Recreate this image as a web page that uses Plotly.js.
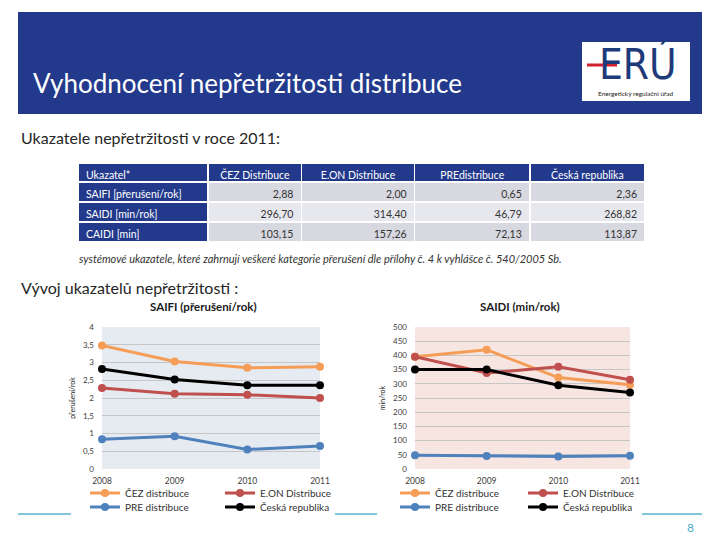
<!DOCTYPE html>
<html><head><meta charset="utf-8">
<script src="https://cdn.plot.ly/plotly-3.0.1.min.js"></script>
<style>html,body{margin:0;padding:0;background:#fff}#c{width:720px;height:540px}</style>
</head><body><div id="c"></div>
<script>
// ---- data ----
const years = [2008, 2009, 2010, 2011];
const seriesNames = ['ČEZ distribuce', 'E.ON Distribuce', 'PRE distribuce', 'Česká republika'];
const saifiCEZ = [3.48, 3.03, 2.85, 2.88];
const saifiEON = [2.28, 2.12, 2.09, 2.00];
const saifiPRE = [0.84, 0.92, 0.55, 0.65];
const saifiCR  = [2.82, 2.52, 2.36, 2.36];
const saidiCEZ = [395, 420, 322, 297];
const saidiEON = [395, 338, 360, 314];
const saidiPRE = [48, 46, 44, 47];
const saidiCR  = [350, 350, 295, 269];

const tableHeader = ['Ukazatel*', 'ČEZ Distribuce', 'E.ON Distribuce', 'PREdistribuce', 'Česká republika'];
const tableIndicators = ['SAIFI [přerušení/rok]', 'SAIDI [min/rok]', 'CAIDI [min]'];
const tableCEZ = ['2,88', '296,70', '103,15'];
const tableEON = ['2,00', '314,40', '157,26'];
const tablePRE = ['0,65', '46,79', '72,13'];
const tableCR  = ['2,36', '268,82', '113,87'];

const colors = ['#f59d56', '#c0504d', '#4f81bd', '#000000'];
const FONT = 'Lato, "Noto Sans", sans-serif';
const W = 720, H = 540;
const px = v => v / W, py = v => 1 - v / H;

const saifi = [saifiCEZ, saifiEON, saifiPRE, saifiCR];
const saidi = [saidiCEZ, saidiEON, saidiPRE, saidiCR];

const traces = [];
saifi.forEach((ys, i) => traces.push({
  type: 'scatter', mode: 'lines+markers', x: years, y: ys, name: seriesNames[i],
  xaxis: 'x', yaxis: 'y', cliponaxis: false,
  line: {color: colors[i], width: 3}, marker: {color: colors[i], size: 8},
  legend: i === 0 ? 'legend' : 'legend' + (i + 1)
}));
saidi.forEach((ys, i) => traces.push({
  type: 'scatter', mode: 'lines+markers', x: years, y: ys, name: seriesNames[i],
  xaxis: 'x2', yaxis: 'y2', cliponaxis: false,
  line: {color: colors[i], width: 3}, marker: {color: colors[i], size: 8},
  legend: 'legend' + (i + 5)
}));

const navy = '#233a8c';
const gA = '#d7d8e0', gB = '#e7e8ee';
traces.push({
  type: 'table',
  domain: {x: [px(78), px(645)], y: [py(243), py(163)]},
  columnwidth: [130, 93, 113, 115, 115],
  header: {
    values: tableHeader,
    align: ['left', 'center', 'center', 'center', 'center'],
    fill: {color: navy}, line: {color: '#ffffff', width: 1.5},
    font: {family: FONT, size: 10.5, color: '#ffffff'}, height: 19
  },
  cells: {
    values: [tableIndicators, tableCEZ, tableEON, tablePRE, tableCR],
    align: ['left', 'right', 'right', 'right', 'right'],
    fill: {color: [[navy, navy, navy], [gA, gB, gA], [gA, gB, gA], [gA, gB, gA], [gA, gB, gA]]},
    line: {color: '#ffffff', width: 1.5},
    font: {family: FONT, size: 10.5, color: [['#fff','#fff','#fff'], '#333', '#333', '#333', '#333']}, height: 20
  }
});

const legendPos = [[85, 493], [220, 493], [85, 507], [220, 507], [395, 493], [523, 493], [395, 507], [523, 507]];
const layout = {
  width: W, height: H, margin: {l: 0, r: 0, t: 0, b: 0},
  paper_bgcolor: '#ffffff', plot_bgcolor: 'rgba(0,0,0,0)',
  separators: ', ',
  font: {family: FONT, size: 8, color: '#404040'},
  xaxis: {domain: [px(102), px(320)], range: [2008, 2011], tickvals: years, showgrid: false, zeroline: false,
    showline: false, ticks: '', ticklabelstandoff: 5, tickfont: {size: 8.5, color: '#404040'}, anchor: 'y'},
  yaxis: {domain: [py(469), py(327)], range: [0, 4], dtick: 0.5, gridcolor: '#c6c6c6', gridwidth: 1, zeroline: false,
    tickfont: {size: 8, color: '#404040'}, anchor: 'x', ticks: '', ticklabelstandoff: 7,
    title: {text: 'přerušení/rok', font: {size: 7, color: '#202020'}, standoff: 6}},
  xaxis2: {domain: [px(415), px(630)], range: [2008, 2011], tickvals: years, showgrid: false, zeroline: false,
    showline: false, ticks: '', ticklabelstandoff: 5, tickfont: {size: 8.5, color: '#404040'}, anchor: 'y2'},
  yaxis2: {domain: [py(469), py(327)], range: [0, 500], dtick: 50, gridcolor: '#c6c6c6', gridwidth: 1, zeroline: false,
    tickfont: {size: 8, color: '#404040'}, anchor: 'x2', ticks: '', ticklabelstandoff: 7,
    title: {text: 'min/rok', font: {size: 7, color: '#202020'}, standoff: 6}},
  showlegend: true,
  shapes: [
    {type: 'rect', xref: 'paper', yref: 'paper', x0: px(18), x1: px(702), y0: py(114), y1: py(12),
      fillcolor: navy, line: {width: 0}, layer: 'below'},
    {type: 'rect', xref: 'paper', yref: 'paper', x0: px(582), x1: px(690), y0: py(101), y1: py(42),
      fillcolor: '#ffffff', line: {width: 0}},
    {type: 'rect', xref: 'x domain', yref: 'y domain', x0: 0, x1: 1, y0: 0, y1: 1,
      fillcolor: '#e6ebf2', line: {width: 0}, layer: 'below'},
    {type: 'rect', xref: 'x2 domain', yref: 'y2 domain', x0: 0, x1: 1, y0: 0, y1: 1,
      fillcolor: '#f6e5e1', line: {width: 0}, layer: 'below'},
    {type: 'line', xref: 'paper', yref: 'paper', x0: px(18), x1: px(71), y0: py(514), y1: py(514), line: {color: '#5bb3cc', width: 1.5}},
    {type: 'line', xref: 'paper', yref: 'paper', x0: px(335), x1: px(377), y0: py(514), y1: py(514), line: {color: '#5bb3cc', width: 1.5}},
    {type: 'line', xref: 'paper', yref: 'paper', x0: px(642), x1: px(702), y0: py(514), y1: py(514), line: {color: '#5bb3cc', width: 1.5}}
  ],
  annotations: [
    {text: 'Vyhodnocení nepřetržitosti distribuce', xref: 'paper', yref: 'paper', x: px(31), y: py(83),
      xanchor: 'left', yanchor: 'middle', showarrow: false, font: {family: FONT, size: 26, color: '#ffffff'}},
    {text: 'ERÚ', xref: 'paper', yref: 'paper', x: px(638), y: py(64), xanchor: 'center', yanchor: 'middle',
      showarrow: false, font: {family: '"Liberation Sans Narrow", "DejaVu Sans Condensed", sans-serif', size: 42, color: '#1f3a7a'}},
    {text: 'Energetický regulační úřad', xref: 'paper', yref: 'paper', x: px(636), y: py(94), xanchor: 'center', yanchor: 'middle',
      showarrow: false, font: {family: FONT, size: 6.5, color: '#222'}},
    {text: 'Ukazatele nepřetržitosti v roce 2011:', xref: 'paper', yref: 'paper', x: px(19), y: py(137),
      xanchor: 'left', yanchor: 'middle', showarrow: false, font: {family: FONT, size: 16, color: '#262626'}},
    {text: '<i>systémové ukazatele, které zahrnují veškeré kategorie přerušení dle přílohy č. 4 k vyhlášce č. 540/2005 Sb.</i>',
      xref: 'paper', yref: 'paper', x: px(77), y: py(258), xanchor: 'left', yanchor: 'middle', showarrow: false,
      font: {family: FONT, size: 11, color: '#333'}},
    {text: 'Vývoj ukazatelů nepřetržitosti :', xref: 'paper', yref: 'paper', x: px(19), y: py(287),
      xanchor: 'left', yanchor: 'middle', showarrow: false, font: {family: FONT, size: 16, color: '#262626'}},
    {text: '<b>SAIFI (přerušení/rok)</b>', xref: 'paper', yref: 'paper', x: px(203), y: py(306),
      xanchor: 'center', yanchor: 'middle', showarrow: false, font: {family: FONT, size: 11.5, color: '#1a1a1a'}},
    {text: '<b>SAIDI (min/rok)</b>', xref: 'paper', yref: 'paper', x: px(520), y: py(306),
      xanchor: 'center', yanchor: 'middle', showarrow: false, font: {family: FONT, size: 11.5, color: '#1a1a1a'}},
    {text: '8', xref: 'paper', yref: 'paper', x: px(690), y: py(527), xanchor: 'center', yanchor: 'middle',
      showarrow: false, font: {family: FONT, size: 12, color: '#4bacc6'}}
  ]
};
// red stroke through the E of the logo (drawn above the white box)
layout.shapes.push({type: 'line', xref: 'paper', yref: 'paper', x0: px(587), x1: px(617), y0: py(65), y1: py(65),
  line: {color: '#d0202e', width: 3}});
legendPos.forEach((p, i) => {
  const key = i === 0 ? 'legend' : 'legend' + (i + 1);
  layout[key] = {x: px(p[0]), y: py(p[1]), xanchor: 'left', yanchor: 'middle', xref: 'paper', yref: 'paper',
    bgcolor: 'rgba(0,0,0,0)', borderwidth: 0, itemwidth: 30, font: {family: FONT, size: 10, color: '#333'},
    itemclick: false, itemdoubleclick: false};
});
Plotly.newPlot('c', traces, layout, {staticPlot: true});
</script></body></html>
